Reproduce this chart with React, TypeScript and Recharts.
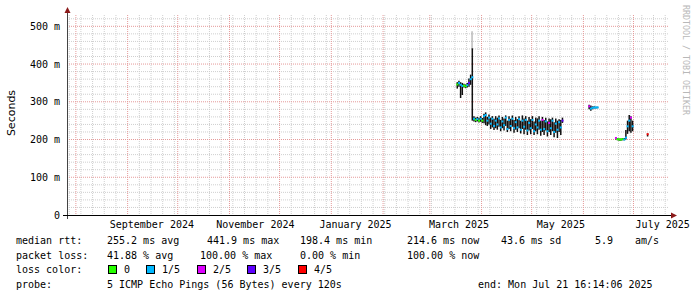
import { Bar, CartesianGrid, ComposedChart, Scatter, XAxis, YAxis } from 'recharts';

const DAY = 86400000;
const START = Date.UTC(2024, 6, 26, 16, 14, 6);
const END = Date.UTC(2025, 6, 21, 16, 14, 6);

const DATES = [
  '2025-03-17', '2025-03-18', '2025-03-19', '2025-03-20', '2025-03-21', '2025-03-22', '2025-03-23',
  '2025-03-24', '2025-03-25', '2025-03-26', '2025-03-27', '2025-03-28', '2025-03-29', '2025-03-30',
  '2025-03-31', '2025-04-01', '2025-04-02', '2025-04-03', '2025-04-04', '2025-04-05', '2025-04-06',
  '2025-04-07', '2025-04-08', '2025-04-09', '2025-04-10', '2025-04-11', '2025-04-12', '2025-04-13',
  '2025-04-14', '2025-04-15', '2025-04-16', '2025-04-17', '2025-04-18', '2025-04-19', '2025-04-20',
  '2025-04-21', '2025-04-22', '2025-04-23', '2025-04-24', '2025-04-25', '2025-04-26', '2025-04-27',
  '2025-04-28', '2025-04-29', '2025-04-30', '2025-05-01', '2025-05-02', '2025-05-03', '2025-05-04',
  '2025-05-05', '2025-05-06', '2025-05-07', '2025-05-08', '2025-05-09', '2025-05-10', '2025-05-11',
  '2025-05-12', '2025-05-13', '2025-05-14', '2025-05-15', '2025-05-16', '2025-05-17', '2025-05-18',
  '2025-05-19',
  '2025-06-04', '2025-06-05', '2025-06-06', '2025-06-07', '2025-06-08', '2025-06-09',
  '2025-06-20', '2025-06-21', '2025-06-22', '2025-06-23', '2025-06-24', '2025-06-25', '2025-06-26',
  '2025-06-27', '2025-06-28', '2025-06-29', '2025-06-30',
  '2025-07-09',
];

// smoke range and median, in ms
const SMOKE_LOW = [
  335, 340, 310, 318, 338, 336, 338, 340, 345, 250, 248, 246, 248, 245,
  247, 244, 243, 238, 236, 240, 228, 232, 225, 230, 226, 234, 222, 230,
  224, 236, 220, 228, 222, 234, 218, 226, 220, 230, 216, 228, 214, 226,
  212, 224, 214, 228, 212, 222, 214, 226, 210, 220, 212, 224, 208, 220,
  212, 222, 206, 218, 204, 220, 212, 244,
  280, 276, 280, 282, 282, 283,
  200, 198, 197, 197, 198, 198, 200, 215, 222, 218, 222,
  208,
];
const SMOKE_HIGH = [
  352, 356, 352, 350, 348, 346, 350, 362, 372, 442, 262, 258, 260, 258,
  262, 257, 268, 272, 260, 266, 258, 262, 255, 262, 258, 264, 252, 260,
  256, 264, 250, 262, 255, 264, 252, 260, 254, 262, 250, 264, 256, 262,
  250, 260, 254, 262, 248, 258, 256, 262, 250, 260, 252, 258, 248, 256,
  254, 258, 246, 256, 250, 254, 252, 258,
  292, 290, 288, 288, 287, 287,
  206, 204, 203, 203, 204, 204, 225, 250, 265, 262, 250,
  216,
];
const MEDIAN = [
  346, 350, 345, 342, 343, 341, 344, 350, 360, 365, 255, 252, 254, 250,
  255, 250, 262, 265, 250, 258, 242, 255, 236, 250, 240, 256, 232, 248,
  238, 258, 228, 252, 236, 255, 230, 246, 232, 254, 226, 250, 234, 252,
  224, 244, 230, 252, 222, 240, 232, 250, 226, 252, 228, 248, 222, 244,
  230, 250, 220, 242, 226, 246, 232, 250,
  288, 282, 284, 285, 285, 285,
  204, 201, 200, 200, 201, 200, 205, 235, 250, 258, 235,
  214,
];
// lost pings out of 5
const LOSS = [
  0, 1, 1, 1, 0, 0, 1, 3, 1, 1, 1, 0, 1, 0,
  1, 0, 1, 1, 1, 1, 1, 1, 1, 1, 1, 1, 1, 1,
  1, 1, 1, 1, 1, 1, 1, 1, 1, 1, 1, 1, 1, 1,
  1, 1, 1, 1, 1, 1, 1, 1, 1, 2, 1, 1, 1, 2,
  1, 1, 1, 1, 1, 1, 1, 3,
  2, 1, 1, 1, 1, 1,
  2, 0, 0, 0, 0, 1, 1, 1, 1, 2, 1,
  4,
];

const SPIKE_DATES = ['2025-03-26'];
const SPIKE_HIGH = [487];

const LOSS_LABELS = ['0', '1/5', '2/5', '3/5', '4/5'];
const LOSS_COLORS = ['#26ff00', '#00b8ff', '#dd00ff', '#5e00ff', '#ff0000'];

const Y_TICKS = [0, 100, 200, 300, 400, 500];
const Y_LABELS = ['0', '100 m', '200 m', '300 m', '400 m', '500 m'];
const X_LABEL_DATES = ['2024-09-15', '2024-11-16', '2025-01-15', '2025-03-18', '2025-05-18', '2025-07-18'];
const X_LABELS = ['September 2024', 'November 2024', 'January 2025', 'March 2025', 'May 2025', 'July 2025'];

const noon = (d: string) => Date.parse(d) + DAY / 2;

const rows = DATES.map((d, i) => {
  const s = SPIKE_DATES.indexOf(d);
  return {
    t: noon(d),
    smoke: [SMOKE_LOW[i], SMOKE_HIGH[i]],
    outer: s >= 0 ? [SMOKE_HIGH[i], SPIKE_HIGH[s]] : null,
    med: MEDIAN[i],
    loss: LOSS[i],
  };
});

const xTicks = X_LABEL_DATES.map(noon);

const monthLines: number[] = [];
for (let m = 7; m <= 18; m++) monthLines.push(Date.UTC(2024, m, 1));
const weekLines: number[] = [];
for (let t = Date.UTC(2024, 6, 28); t < END; t += 7 * DAY) {
  if (!monthLines.includes(t)) weekLines.push(t);
}
const minorY: number[] = [];
for (let v = 20; v <= 520; v += 20) if (v % 100 !== 0) minorY.push(v);

const MONO = 'DejaVu Sans Mono';

export default function App() {
  return (
    <div style={{ position: 'absolute', left: 0, top: 0, width: 697, height: 297, background: '#fff' }}>
      <ComposedChart
        width={697}
        height={297}
        data={rows}
        margin={{ top: 15, right: 29, bottom: 52, left: 7 }}
      >
        <XAxis
          dataKey="t"
          type="number"
          domain={[START, END]}
          allowDataOverflow
          ticks={xTicks}
          interval={0}
          tickFormatter={(v) => X_LABELS[xTicks.indexOf(v)] ?? ''}
          axisLine={false}
          tickLine={false}
          tickSize={0}
          tickMargin={6}
          height={30}
          tick={{ fontFamily: MONO, fontSize: 10, fill: '#000' }}
        />
        <XAxis xAxisId="b" dataKey="t" type="number" domain={[START, END]} allowDataOverflow hide />
        <YAxis
          type="number"
          domain={[0, 530]}
          allowDataOverflow
          ticks={Y_TICKS}
          interval={0}
          tickFormatter={(v) => Y_LABELS[Y_TICKS.indexOf(v)] ?? ''}
          axisLine={false}
          tickLine={false}
          tickSize={0}
          tickMargin={7}
          width={60}
          tick={{ fontFamily: MONO, fontSize: 10, fill: '#000' }}
        />
        <CartesianGrid
          horizontalValues={minorY}
          verticalValues={weekLines}
          stroke="#cfcfcf"
          strokeDasharray="1 1"
        />
        <CartesianGrid
          horizontalValues={Y_TICKS.slice(1)}
          verticalValues={monthLines}
          stroke="#e59a9a"
          strokeDasharray="1 1"
        />
        <Bar dataKey="smoke" fill="#111" barSize={2} isAnimationActive={false} />
        <Bar xAxisId="b" dataKey="outer" fill="#999" barSize={1} isAnimationActive={false} />
        <Scatter
          dataKey="med"
          isAnimationActive={false}
          shape={(p: any) => (
            <rect x={p.cx - 1} y={p.cy - 1} width={2} height={2} fill={LOSS_COLORS[p.payload.loss]} />
          )}
        />
      </ComposedChart>
      <svg
        width={697}
        height={297}
        style={{ position: 'absolute', left: 0, top: 0, pointerEvents: 'none' }}
      >
        <line x1={67.5} y1={219} x2={67.5} y2={12} stroke="#444" />
        <line x1={63} y1={215.5} x2={672} y2={215.5} stroke="#000" />
        <polygon points="64.5,13 70.5,13 67.5,7" fill="#8b1a1a" />
        <polygon points="671,212.5 671,218.5 677,215.5" fill="#8b1a1a" />
        <text
          transform="translate(15,113) rotate(-90)"
          textAnchor="middle"
          fontFamily="DejaVu Sans"
          fontSize={11}
          fill="#000"
        >
          Seconds
        </text>
        <text
          transform="translate(683,5) rotate(90)"
          fontFamily={MONO}
          fontSize={8.3}
          fill="#b8b8b8"
        >
          RRDTOOL / TOBI OETIKER
        </text>
        <g fontFamily={MONO} fontSize={10} fill="#000" style={{ whiteSpace: 'pre' }}>
          <text x={16} y={244}>median rtt:</text>
          <text x={107} y={244}>255.2 ms avg</text>
          <text x={207} y={244}>441.9 ms max</text>
          <text x={300} y={244}>198.4 ms min</text>
          <text x={407} y={244}>214.6 ms now</text>
          <text x={501} y={244}>43.6 ms sd</text>
          <text x={595} y={244}>5.9</text>
          <text x={635} y={244}>am/s</text>

          <text x={16} y={258.5}>packet loss:</text>
          <text x={107} y={258.5}>41.88 % avg</text>
          <text x={200} y={258.5}>100.00 % max</text>
          <text x={300} y={258.5}>0.00 % min</text>
          <text x={407} y={258.5}>100.00 % now</text>

          <text x={16} y={273}>loss color:</text>
          {LOSS_LABELS.map((l, i) => {
            const sx = [108, 146, 197, 247, 298][i];
            return (
              <g key={l}>
                <rect x={sx + 0.5} y={265.5} width={8} height={8} fill={LOSS_COLORS[i]} stroke="#000" />
                <text x={sx + 16} y={273}>{l}</text>
              </g>
            );
          })}

          <text x={16} y={287.5}>probe:</text>
          <text x={107} y={287.5}>5 ICMP Echo Pings (56 Bytes) every 120s</text>
          <text x={478} y={287.5}>end: Mon Jul 21 16:14:06 2025</text>
        </g>
      </svg>
    </div>
  );
}
